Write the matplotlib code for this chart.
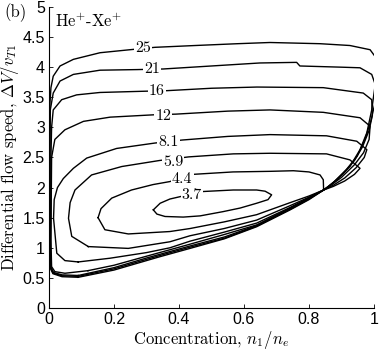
import numpy as np
import matplotlib
matplotlib.use("Agg")
import matplotlib.pyplot as plt

plt.rcParams["mathtext.fontset"] = "cm"
plt.rcParams["axes.unicode_minus"] = False

# contour levels and their label positions
levels = ["25", "21", "16", "12", "8.1", "5.9", "4.4", "3.7"]
label_x = [0.290, 0.316, 0.331, 0.352, 0.367, 0.382, 0.410, 0.440]
label_y = [4.32, 3.96, 3.60, 3.19, 2.75, 2.43, 2.14, 1.88]

# traced contour lines, x = n1/ne, y = dV/vT1
x25 = [0.090, 0.040, 0.012, 0.004, 0.002, 0.002, 0.003, 0.006, 0.013, 0.034, 0.075, 0.157, 0.249, 0.326, 0.45, 0.58, 0.68, 0.834, 0.926, 0.988, 1.003, 1.006, 1.003, 0.993, 0.978, 0.957, 0.926, 0.885, 0.860, 0.845, 0.800, 0.742, 0.639, 0.540, 0.434, 0.340, 0.200, 0.090]
y25 = [0.51, 0.52, 0.57, 0.66, 1.00, 2.50, 3.40, 3.66, 3.85, 4.02, 4.13, 4.24, 4.29, 4.33, 4.36, 4.39, 4.41, 4.39, 4.36, 4.29, 4.18, 4.01, 3.68, 3.29, 2.91, 2.63, 2.35, 2.13, 2.02, 1.96, 1.80, 1.63, 1.35, 1.15, 0.99, 0.85, 0.63, 0.51]

x21 = [0.090, 0.040, 0.013, 0.005, 0.003, 0.003, 0.004, 0.013, 0.034, 0.075, 0.157, 0.271, 0.351, 0.50, 0.649, 0.762, 0.772, 0.90, 0.957, 0.993, 1.006, 1.003, 0.990, 0.972, 0.948, 0.915, 0.878, 0.855, 0.845, 0.800, 0.742, 0.639, 0.540, 0.434, 0.340, 0.200, 0.090]
y21 = [0.525, 0.535, 0.58, 0.67, 1.00, 2.50, 3.29, 3.57, 3.77, 3.88, 3.95, 3.96, 3.97, 4.02, 4.07, 4.08, 4.02, 4.00, 3.99, 3.88, 3.68, 3.40, 3.10, 2.80, 2.52, 2.30, 2.10, 2.00, 1.96, 1.81, 1.64, 1.36, 1.16, 1.01, 0.87, 0.65, 0.525]

x16 = [0.090, 0.040, 0.014, 0.006, 0.005, 0.006, 0.008, 0.013, 0.039, 0.085, 0.157, 0.290, 0.363, 0.50, 0.64, 0.844, 0.967, 0.993, 0.995, 0.985, 0.965, 0.940, 0.905, 0.870, 0.845, 0.800, 0.742, 0.639, 0.540, 0.434, 0.300, 0.200, 0.090]
y16 = [0.54, 0.55, 0.59, 0.68, 1.00, 2.50, 3.00, 3.29, 3.46, 3.54, 3.58, 3.60, 3.61, 3.65, 3.67, 3.66, 3.57, 3.46, 3.20, 2.95, 2.68, 2.45, 2.23, 2.06, 1.96, 1.82, 1.65, 1.37, 1.18, 1.03, 0.83, 0.67, 0.54]

x12 = [0.120, 0.049, 0.018, 0.008, 0.006, 0.008, 0.018, 0.049, 0.106, 0.188, 0.326, 0.390, 0.55, 0.68, 0.844, 0.957, 0.988, 0.985, 0.968, 0.940, 0.900, 0.868, 0.845, 0.800, 0.742, 0.639, 0.539, 0.434, 0.300, 0.200, 0.120]
y12 = [0.62, 0.577, 0.604, 0.687, 1.13, 2.50, 2.80, 2.96, 3.10, 3.17, 3.21, 3.22, 3.27, 3.29, 3.25, 3.16, 3.02, 2.80, 2.58, 2.38, 2.17, 2.04, 1.96, 1.83, 1.66, 1.38, 1.22, 1.06, 0.86, 0.71, 0.62]

x81 = [0.090, 0.049, 0.024, 0.014, 0.016, 0.026, 0.044, 0.075, 0.116, 0.208, 0.326, 0.41, 0.55, 0.68, 0.854, 0.947, 0.978, 0.970, 0.945, 0.910, 0.875, 0.845, 0.800, 0.742, 0.639, 0.539, 0.434, 0.372, 0.300, 0.188, 0.090]
y81 = [0.765, 0.787, 0.91, 1.49, 1.80, 2.00, 2.15, 2.32, 2.49, 2.65, 2.74, 2.79, 2.85, 2.88, 2.86, 2.77, 2.63, 2.50, 2.33, 2.16, 2.04, 1.96, 1.83, 1.67, 1.41, 1.26, 1.11, 1.00, 0.92, 0.827, 0.765]

x59 = [0.121, 0.070, 0.060, 0.065, 0.080, 0.131, 0.224, 0.340, 0.430, 0.567, 0.68, 0.854, 0.926, 0.957, 0.940, 0.910, 0.875, 0.845, 0.800, 0.742, 0.639, 0.539, 0.434, 0.372, 0.244, 0.121]
y59 = [1.02, 1.19, 1.49, 1.75, 1.96, 2.21, 2.35, 2.45, 2.51, 2.56, 2.57, 2.56, 2.46, 2.32, 2.22, 2.11, 2.02, 1.96, 1.84, 1.70, 1.46, 1.32, 1.20, 1.10, 0.99, 1.02]

x44 = [0.151, 0.160, 0.193, 0.254, 0.320, 0.372, 0.444, 0.566, 0.68, 0.752, 0.800, 0.834, 0.844, 0.845, 0.800, 0.742, 0.639, 0.539, 0.434, 0.372, 0.244, 0.172, 0.151]
y44 = [1.50, 1.65, 1.825, 1.96, 2.05, 2.10, 2.22, 2.26, 2.27, 2.28, 2.26, 2.21, 2.13, 1.96, 1.86, 1.75, 1.55, 1.43, 1.32, 1.27, 1.23, 1.30, 1.50]

x37 = [0.321, 0.342, 0.372, 0.408, 0.440, 0.475, 0.567, 0.639, 0.665, 0.685, 0.674, 0.639, 0.588, 0.535, 0.465, 0.413, 0.357, 0.332, 0.321]
y37 = [1.63, 1.74, 1.81, 1.855, 1.90, 1.935, 1.96, 1.96, 1.94, 1.88, 1.80, 1.74, 1.66, 1.60, 1.53, 1.51, 1.52, 1.56, 1.63]

curves = [(x25, y25), (x21, y21), (x16, y16), (x12, y12),
          (x81, y81), (x59, y59), (x44, y44), (x37, y37)]

fig = plt.figure(figsize=(3.81, 3.49), dpi=100)
ax = fig.add_axes([0.1286, 0.1175, 0.853, 0.8625])

for cx, cy in curves:
    ax.plot(cx, cy, color="black", lw=1.0)

for lab, lx, ly in zip(levels, label_x, label_y):
    ax.text(lx, ly, lab, ha="center", va="center", fontsize=11.5,
            family="cmr10", bbox=dict(fc="white", ec="none", pad=0.8))

ax.set_xlim(0, 1)
ax.set_ylim(0, 5)
ax.set_xticks(np.arange(0, 1.01, 0.2))
ax.set_xticklabels(["0", "0.2", "0.4", "0.6", "0.8", "1"])
ax.set_yticks(np.arange(0, 5.01, 0.5))
ax.set_yticklabels(["0", "0.5", "1", "1.5", "2", "2.5", "3", "3.5", "4", "4.5", "5"])
ax.spines["top"].set_visible(False)
ax.spines["right"].set_visible(False)
ax.tick_params(direction="in", length=3, width=0.6, labelsize=11.5, pad=3)
for t in ax.get_xticklabels() + ax.get_yticklabels():
    t.set_family("Liberation Sans")

ax.set_xlabel("Concentration, $n_1/n_e$", family="cmr10", fontsize=12, labelpad=1)
ax.set_ylabel("Differential flow speed, $\\Delta V/v_{T1}$", family="cmr10", fontsize=12, labelpad=1)

ax.text(0.02, 0.985, "He$^{+}$-Xe$^{+}$", transform=ax.transAxes, ha="left", va="top",
        family="cmr10", fontsize=12)
fig.text(0.012, 0.965, "(b)", family="cmr10", fontsize=12, ha="left", va="center")

fig.savefig("out.png", dpi=100)
